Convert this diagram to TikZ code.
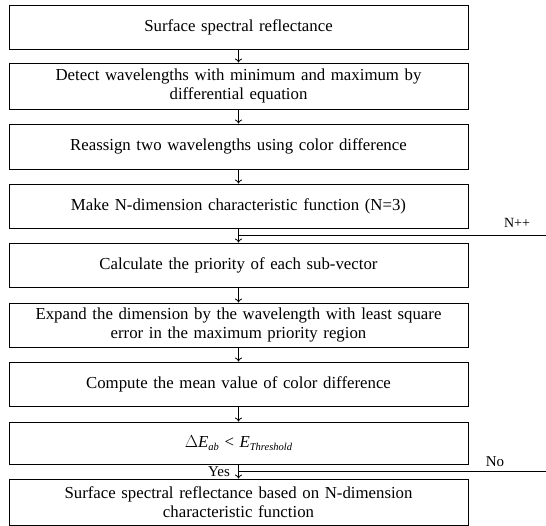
\documentclass[tikz,border=0pt]{standalone}
\usepackage{fontspec}
\setmainfont{Liberation Serif}
\usepackage{amsmath}
\usetikzlibrary{arrows.meta}

\newcommand{\lowsub}[1]{\raisebox{-0.35ex}{\fontsize{10.5}{11}\selectfont\textit{#1}}}

\begin{document}
\begin{tikzpicture}[x=1pt, y=-1pt, line width=0.8pt,
		stepbox/.style={draw, minimum width=459pt, text width=450pt, align=center,
			inner sep=0pt, font=\fontsize{16.8}{18.5}\selectfont},
		flowlabel/.style={font=\fontsize{15}{17}\selectfont},
		flow/.style={-{To[length=4pt,width=7pt]}}]
		\useasboundingbox (0,0) rectangle (546,526);
		\node[stepbox, minimum height=44pt] (b1) at (238.5,27) {Surface spectral reflectance};
		\node[stepbox, minimum height=46pt] (b2) at (238.5,86) {Detect wavelengths with minimum and maximum by\\differential equation};
		\node[stepbox, minimum height=45pt] (b3) at (238.5,146.5) {Reassign two wavelengths using color difference};
		\node[stepbox, minimum height=44pt] (b4) at (238.5,206) {Make N-dimension characteristic function (N=3)};
		\node[stepbox, minimum height=44pt] (b5) at (238.5,265) {Calculate the priority of each sub-vector};
		\node[stepbox, minimum height=44pt] (b6) at (238.5,325) {Expand the dimension by the wavelength with least square\\error in the maximum priority region};
		\node[stepbox, minimum height=44pt] (b7) at (238.5,384) {Compute the mean value of color difference};
		\node[stepbox, minimum height=42pt] (b8) at (238.5,443) {$\Delta$\textit{E}\lowsub{ab}\ <\ \textit{E}\lowsub{Threshold}};
		\node[stepbox, minimum height=46pt] (b9) at (238.5,502) {Surface spectral reflectance based on N-dimension\\characteristic function};
		\foreach \a/\b in {b1/b2,b2/b3,b3/b4,b4/b5,b5/b6,b6/b7,b7/b8,b8/b9} {
			\draw[flow] (\a) -- (\b);
		}
		% loop back in
		\coordinate (nin) at (546,235);
		\draw (nin) -- (b4.south |- nin);
		\node[flowlabel, font=\fontsize{14}{16}\selectfont] (nplus) at (517,223) {N++};
		% loop out
		\coordinate (nout) at (546,471);
		\draw (b8.south |- nout) -- (nout);
		\node[flowlabel] (no) at (495,462) {No};
		\node[flowlabel] (yes) at (219,472) {Yes};
	\end{tikzpicture}
\end{document}
